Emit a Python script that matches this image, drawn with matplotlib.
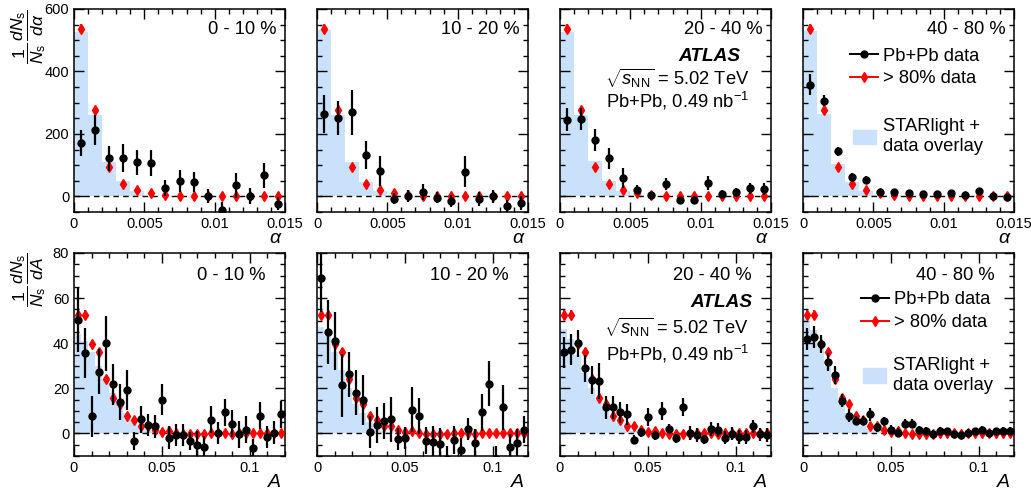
import numpy as np
import matplotlib.pyplot as plt
from matplotlib.ticker import MultipleLocator, FuncFormatter
from matplotlib.lines import Line2D
from matplotlib.patches import Patch

plt.rcParams['font.family'] = ['Liberation Sans', 'DejaVu Sans']
plt.rcParams['mathtext.fontset'] = 'custom'
plt.rcParams['mathtext.rm'] = 'Liberation Sans'
plt.rcParams['mathtext.it'] = 'Liberation Sans:italic'
plt.rcParams['mathtext.bf'] = 'Liberation Sans:bold'

centralities = ['0 - 10 %', '10 - 20 %', '20 - 40 %', '40 - 80 %']

# ---- alpha distributions (top row), bins of 0.001 from 0 to 0.015
alpha_edges = np.linspace(0, 0.015, 16)

alpha_star = [
    [526, 262, 111, 48, 16, 2, 0, 0, 0, 0, 0, 0, 0, 0, 0],
    [532, 259, 109, 47, 16, 4, 0, 0, 0, 0, 0, 0, 0, 0, 0],
    [525, 259, 114, 50, 18, 4, 0, 0, 0, 0, 0, 0, 0, 0, 0],
    [531, 265, 104, 46, 18, 5, 0, 0, 0, 0, 0, 0, 0, 0, 0],
]
alpha_data = [
    [171, 213, 122, 123, 109, 108, 27, 48, 47, 1, -43, 36, 1, 67, -23],
    [264, 251, 269, 133, 82, -7, 1, 15, -4, -15, 79, -9, 0, -30, -21],
    [246, 249, 181, 122, 59, 22, 3, 40, -11, -10, 44, 7, 13, 26, 23],
    [358, 307, 144, 62, 53, 14, 14, 10, 7, 7, 12, 5, 17, 1, -1],
]
alpha_data_err = [
    [43, 48, 40, 45, 40, 42, 25, 35, 32, 22, 25, 40, 25, 40, 20],
    [60, 55, 72, 45, 48, 18, 18, 25, 18, 18, 50, 22, 22, 20, 22],
    [38, 35, 35, 33, 32, 15, 10, 18, 10, 10, 22, 12, 15, 18, 20],
    [33, 17, 15, 12, 12, 6, 6, 5, 5, 5, 5, 5, 5, 5, 5],
]
alpha_peri = [537, 278, 93, 40, 21, 10, 3, 2, 2, 1, 2, 1, 1, 2, 1]
alpha_peri_err = [15, 12, 8, 6, 5, 4, 3, 3, 3, 3, 3, 3, 3, 3, 3]

# ---- A distributions (bottom row), bins of 0.004 from 0 to 0.12
asym_edges = np.linspace(0, 0.12, 31)

asym_star = [
    [44, 41, 36, 30, 24, 18, 13, 9, 6, 3.5, 2, 1, 0.5, 0.2] + [0] * 16,
    [47, 43, 36, 28, 20, 13, 9, 5, 2.5, 1.2, 0.5, 0.2] + [0] * 18,
    [46.5, 42, 35, 27, 20, 15, 11, 7.5, 4.5, 2.5, 1.2, 0.5, 0.2] + [0] * 17,
    [51, 46, 38, 30, 20, 13, 9, 6, 3.5, 2, 1, 0.5, 0.2] + [0] * 17,
]
asym_data = [
    [50.3, 35.6, 7.6, 27.4, 39.9, 21.8, 14.0, 19.3, -3.5, 6.3, 3.7, 3.1, 15.0, -1.8, -0.6,
     -0.6, -3.5, -5.0, -6.2, 6.0, 0.1, 9.4, 4.3, -0.3, 1.6, -6.4, 7.9, -1.5, 0.4, 8.5],
    [69.0, 45.0, 41.0, 21.3, 26.2, 18.1, 14.7, 0.6, 3.8, 5.6, 6.2, -2.5, -2.1, 10.6, 7.6,
     -3.2, -3.8, -4.6, -11.5, -2.9, -7.2, 1.9, -4.1, 9.3, 22.1, -11.5, 11.6, -6.2, -4.1, 1.6],
    [35.9, 37.2, 39.9, 28.8, 23.7, 23.4, 11.6, 11.6, 9.3, 8.4, -2.8, 0.6, 7.4, -0.7, 9.9,
     2.1, -2.1, 11.6, 0.1, -0.7, -2.6, 1.9, 1.6, -1.8, -0.1, -1.5, -1.5, 3.1, -0.4, -0.7],
    [41.8, 42.8, 39.6, 31.5, 25.9, 14.6, 7.9, 5.7, 5.6, 8.5, 2.8, 5.3, 1.6, 0.4, 4.3,
     4.3, 1.6, 1.3, -0.1, 1.3, 0.9, -0.3, -0.7, 0.3, 1.0, 1.6, 0.0, 1.0, 1.2, 1.2],
]
asym_data_err = [
    [14, 11, 9, 10, 12, 9, 8, 9, 4, 6, 5, 5, 7, 5, 5, 5, 4, 6, 5, 6, 5, 6, 6, 6, 6, 4, 6, 5, 5, 6],
    [15, 14, 13, 14, 10, 10, 11, 7, 8, 8, 10, 5, 5, 10, 8, 6, 7, 7, 6, 6, 5, 5, 6, 8, 10, 6, 10, 6, 6, 6],
    [7, 7, 6, 6, 6, 8, 5, 5, 4.5, 4.5, 2, 2, 4, 2, 4, 2, 2, 4, 3, 3, 2, 3, 3, 3, 3, 3, 3, 3, 3, 3],
    [5, 5, 4, 4, 4, 3, 3, 2, 2, 3, 2, 2, 2, 2, 2, 2, 1.5, 1.5, 1.5, 1.5, 1.5, 1.5, 1.5, 1.5, 1.5,
     1.5, 1.5, 1.5, 1.5, 1.5],
]
asym_peri = [52.6, 52.6, 39.6, 36.2, 24.3, 15.9, 13.2, 7.6, 5.9, 3.1, 3.1, 1.6, 0.5, 0.9, 0,
             -0.1, -0.3, -0.3, -0.1, 0.2, 0.2, 0, -0.1, 0, 0, 0, 0, 0, 0, 0]
asym_peri_err = [2, 2, 1.5, 1.5, 1.2, 1, 1, 0.8, 0.8, 0.6, 0.6, 0.5, 0.5, 0.5, 0.5,
                 0.5, 0.5, 0.5, 0.5, 0.5, 0.5, 0.5, 0.5, 0.5, 0.5, 0.5, 0.5, 0.5, 0.5, 0.5]

star_color = '#c9e1fa'
W, H = 1031, 495
lefts = [74, 317, 560, 803]
fs = 13.2
fmt = FuncFormatter(lambda v, p: '%g' % round(v, 6))

fig = plt.figure(figsize=(W / 100, H / 100), dpi=100)


def draw_panel(ax, edges, star, data, data_err, peri, peri_err):
    centers = (edges[:-1] + edges[1:]) / 2
    ax.stairs(star, edges, fill=True, color=star_color, lw=0, zorder=1)
    ax.axhline(0, color='k', ls='--', lw=1.0, dashes=(4, 3), zorder=2)
    ax.errorbar(centers, peri, yerr=peri_err, fmt='d', color='red', ms=5,
                elinewidth=1.3, capsize=0, zorder=3)
    ax.errorbar(centers, data, yerr=data_err, fmt='o', color='k', ms=5,
                elinewidth=1.6, capsize=0, zorder=4)
    ax.tick_params(which='both', direction='in', top=True, right=True, labelsize=10.5)
    ax.tick_params(which='major', length=7, width=1)
    ax.tick_params(which='minor', length=3.5, width=1)
    for s in ax.spines.values():
        s.set_linewidth(1.1)
    ax.xaxis.set_major_formatter(fmt)


for row in range(2):
    for col in range(4):
        if row == 0:
            top, bot = 9, 212
        else:
            top, bot = 253, 456
        ax = fig.add_axes([lefts[col] / W, (H - bot) / H, 211 / W, (bot - top) / H])
        if row == 0:
            draw_panel(ax, alpha_edges, alpha_star[col], alpha_data[col],
                       alpha_data_err[col], alpha_peri, alpha_peri_err)
            ax.set_xlim(0, 0.015)
            ax.set_ylim(-50, 600)
            ax.xaxis.set_major_locator(MultipleLocator(0.005))
            ax.xaxis.set_minor_locator(MultipleLocator(0.001))
            ax.yaxis.set_major_locator(MultipleLocator(200))
            ax.yaxis.set_minor_locator(MultipleLocator(50))
            ax.set_xlabel(r'$\alpha$', fontsize=14, loc='right')
            ax.xaxis.set_label_coords(0.99, -0.09)
            lx, ly = 0.958, 0.90
        else:
            draw_panel(ax, asym_edges, asym_star[col], asym_data[col],
                       asym_data_err[col], asym_peri, asym_peri_err)
            ax.set_xlim(0, 0.12)
            ax.set_ylim(-10, 80)
            ax.xaxis.set_major_locator(MultipleLocator(0.05))
            ax.xaxis.set_minor_locator(MultipleLocator(0.01))
            ax.yaxis.set_major_locator(MultipleLocator(20))
            ax.yaxis.set_minor_locator(MultipleLocator(5))
            ax.set_xlabel('$A$', fontsize=14, loc='right')
            ax.xaxis.set_label_coords(0.985, -0.09)
            lx, ly = 0.908, 0.89
        if col > 0:
            ax.tick_params(labelleft=False)
        ax.text(lx, ly, centralities[col], transform=ax.transAxes,
                ha='right', va='center', fontsize=fs)

        if col == 2:
            if row == 0:
                xs, ys = [0.853, 0.90, 0.90], [0.764, 0.658, 0.545]
            else:
                xs, ys = [0.91, 0.896, 0.90], [0.754, 0.632, 0.505]
            ax.text(xs[0], ys[0], 'ATLAS', transform=ax.transAxes, ha='right',
                    va='center', fontsize=fs + 0.5, fontweight='bold', fontstyle='italic')
            ax.text(xs[1], ys[1], r'$\sqrt{s_{\mathrm{NN}}}$ = 5.02 TeV',
                    transform=ax.transAxes, ha='right', va='center', fontsize=fs)
            ax.text(xs[2], ys[2], r'Pb+Pb, 0.49 nb$^{\mathregular{-1}}$',
                    transform=ax.transAxes, ha='right', va='center', fontsize=fs)

        if col == 3:
            if row == 0:
                p1, p2 = (0.223, 0.712), (0.237, 0.372)
            else:
                p1, p2 = (0.275, 0.714), (0.284, 0.397)
            h1 = [Line2D([], [], color='k', marker='o', ms=5, lw=1.4),
                  Line2D([], [], color='red', marker='d', ms=5, lw=1.4)]
            leg1 = ax.legend(h1, ['Pb+Pb data', '> 80% data'], loc='center left',
                             bbox_to_anchor=p1, frameon=False, fontsize=fs,
                             borderpad=0, borderaxespad=0, handlelength=1.51,
                             handletextpad=0.3, labelspacing=0.32)
            ax.add_artist(leg1)
            ax.legend([Patch(color=star_color)], ['STARlight +\ndata overlay'],
                      loc='center left', bbox_to_anchor=p2, frameon=False,
                      fontsize=fs, borderpad=0, borderaxespad=0,
                      handlelength=1.24, handleheight=0.81, handletextpad=0.38)

fig.text(29 / W, 1 - 37 / H, r'$\dfrac{1}{N_{\rm s}}\,\dfrac{dN_{\rm s}}{d\alpha}$',
         rotation=90, ha='center', va='center', fontsize=12.5)
fig.text(29 / W, 1 - 280 / H, r'$\dfrac{1}{N_{\rm s}}\,\dfrac{dN_{\rm s}}{dA}$',
         rotation=90, ha='center', va='center', fontsize=12.5)

fig.savefig('out.png', dpi=100)
